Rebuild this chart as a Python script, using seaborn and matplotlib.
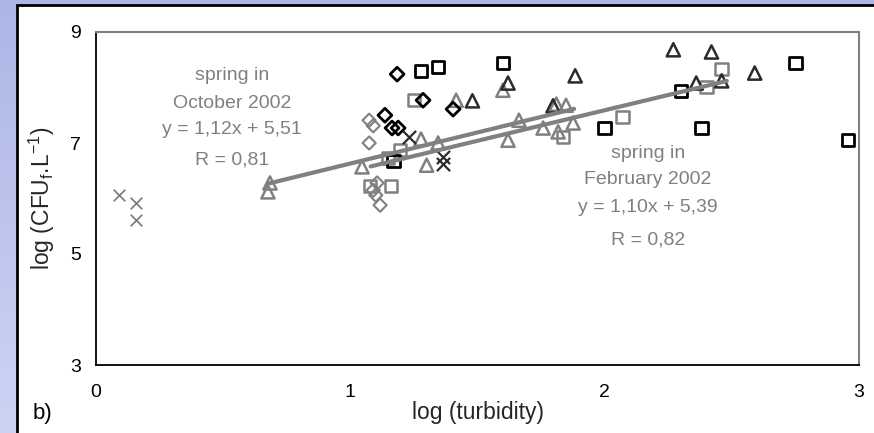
import numpy as np
import pandas as pd
import matplotlib
matplotlib.use("Agg")
import matplotlib.pyplot as plt
from matplotlib.patches import Rectangle
import seaborn as sns

# ---- data: log(turbidity) vs log(CFU_f per litre) -------------------------
gray_x_x = [0.09, 0.157, 0.157]
gray_x_y = [6.06, 5.92, 5.61]

black_x_x = [1.231, 1.365, 1.365]
black_x_y = [7.11, 6.75, 6.62]

black_diamond_x = [1.184, 1.286, 1.136, 1.164, 1.188, 1.404]
black_diamond_y = [8.24, 7.77, 7.50, 7.27, 7.27, 7.61]

gray_diamond_x = [1.074, 1.09, 1.074, 1.105, 1.09, 1.10, 1.117]
gray_diamond_y = [7.41, 7.31, 7.00, 6.28, 6.15, 6.06, 5.88]

black_square_x = [1.278, 1.345, 1.60, 2.00, 2.30, 2.38, 2.75, 2.957, 1.17]
black_square_y = [8.30, 8.37, 8.44, 7.27, 7.94, 7.27, 8.44, 7.05, 6.68]

gray_square_x = [1.25, 1.195, 1.148, 1.077, 1.16, 1.836, 2.07, 2.40, 2.46]
gray_square_y = [7.77, 6.87, 6.73, 6.23, 6.23, 7.11, 7.47, 8.01, 8.33]

dark_triangle_x = [1.48, 1.62, 1.884, 1.797, 2.27, 2.42, 2.36, 2.46, 2.59]
dark_triangle_y = [7.76, 8.08, 8.21, 7.67, 8.68, 8.64, 8.08, 8.12, 8.26]

gray_triangle_x = [0.684, 0.676, 1.416, 1.278, 1.345, 1.046, 1.30, 1.60, 1.663,
                   1.62, 1.758, 1.81, 1.848, 1.817, 1.876]
gray_triangle_y = [6.28, 6.12, 7.77, 7.07, 7.00, 6.57, 6.60, 7.95, 7.41,
                   7.05, 7.27, 7.70, 7.68, 7.20, 7.36]

# regression lines (slope, intercept, x range)
oct_slope, oct_intercept, oct_range = 1.12, 5.51, [0.68, 1.88]
feb_slope, feb_intercept, feb_range = 1.10, 5.39, [1.08, 2.48]

x_ticks = [0, 1, 2, 3]
y_ticks = [3, 5, 7, 9]

# ---- figure ---------------------------------------------------------------
W, H = 874, 433
fig = plt.figure(figsize=(W / 100, H / 100), dpi=100)
sns.set_style("white")
plt.rcParams["font.family"] = ["Liberation Sans", "DejaVu Sans"]
plt.rcParams["mathtext.fontset"] = "custom"
plt.rcParams["mathtext.rm"] = "Liberation Sans"

# slide-style lavender gradient behind the white panel
bg = fig.add_axes([0, 0, 1, 1], zorder=-10)
grad = np.linspace(0, 1, 256)[:, None]
c_top = np.array([0.68, 0.71, 0.90])
c_bot = np.array([0.80, 0.83, 0.96])
img = c_top[None, None, :] * (1 - grad[..., None]) + c_bot[None, None, :] * grad[..., None]
img = np.repeat(img, 4, axis=1)
bg.imshow(img, aspect="auto", extent=[0, 1, 0, 1])
bg.add_patch(Rectangle((17 / W, -0.05), 1.2, 1 - 5 / H + 0.05,
                       facecolor="white", edgecolor="black", linewidth=2,
                       transform=bg.transAxes))
bg.set_xlim(0, 1)
bg.set_ylim(0, 1)
bg.axis("off")

ax = fig.add_axes([96 / W, 1 - 365 / H, (859 - 96) / W, (365 - 32) / H])
ax.set_facecolor("none")

GRAY = "#808080"
DARK = "#2b2b2b"

def draw(xs, ys, marker, color, size, lw):
    sns.scatterplot(x=xs, y=ys, ax=ax, marker=marker, s=size,
                    facecolors="none", edgecolors=color, linewidths=lw,
                    zorder=3)

def draw_cross(xs, ys, color, size, lw):
    sns.scatterplot(x=xs, y=ys, ax=ax, marker="x", s=size, color=color,
                    linewidths=lw, zorder=3)

draw_cross(gray_x_x, gray_x_y, GRAY, 70, 1.3)
draw(gray_diamond_x, gray_diamond_y, "D", GRAY, 45, 1.5)
draw(gray_square_x, gray_square_y, "s", GRAY, 80, 1.8)
draw(gray_triangle_x, gray_triangle_y, "^", GRAY, 90, 1.8)
draw(black_square_x, black_square_y, "s", "black", 80, 2.0)
draw(black_diamond_x, black_diamond_y, "D", "black", 50, 2.0)
draw(dark_triangle_x, dark_triangle_y, "^", DARK, 90, 1.8)
draw_cross(black_x_x, black_x_y, DARK, 90, 1.6)

for slope, intercept, xr in [(oct_slope, oct_intercept, oct_range),
                             (feb_slope, feb_intercept, feb_range)]:
    xr = np.array(xr)
    sns.lineplot(x=xr, y=slope * xr + intercept, ax=ax, color=GRAY,
                 linewidth=3, zorder=4)

ax.set_xlim(0, 3)
ax.set_ylim(3, 9)
ax.set_xticks(x_ticks)
ax.set_yticks(y_ticks)
ax.tick_params(axis="both", direction="out", length=5, width=1, color="black",
               labelsize=14, labelcolor="black", pad=6)
ax.tick_params(axis="x", pad=9)
for side in ["left", "bottom"]:
    ax.spines[side].set_color("black")
    ax.spines[side].set_linewidth(1.3)
for side in ["top", "right"]:
    ax.spines[side].set_color(GRAY)
    ax.spines[side].set_linewidth(1.5)
    ax.spines[side].set_visible(True)

ax.set_xlabel("log (turbidity)", fontsize=16.5, labelpad=0)
ax.set_ylabel(r"log (CFU$_\mathregular{f}$.L$^\mathregular{-1}$)", fontsize=16.5,
              labelpad=9)

# annotations for the two regression fits
oct_lines = ["spring in", "October 2002", "y = 1,12x + 5,51", "R = 0,81"]
feb_lines = ["spring in", "February 2002", "y = 1,10x + 5,39", "R = 0,82"]
oct_y = [76, 103, 130, 160]
feb_y = [153, 180, 208, 240]
for txt, py in zip(oct_lines, oct_y):
    fig.text(232 / W, 1 - py / H, txt, ha="center", va="center",
             fontsize=14, color=GRAY)
for txt, py in zip(feb_lines, feb_y):
    fig.text(648 / W, 1 - py / H, txt, ha="center", va="center",
             fontsize=14, color=GRAY)

fig.text(42 / W, 1 - 413 / H, "b)", ha="center", va="center", fontsize=16,
         color="black")

fig.savefig("out.png", dpi=100)
